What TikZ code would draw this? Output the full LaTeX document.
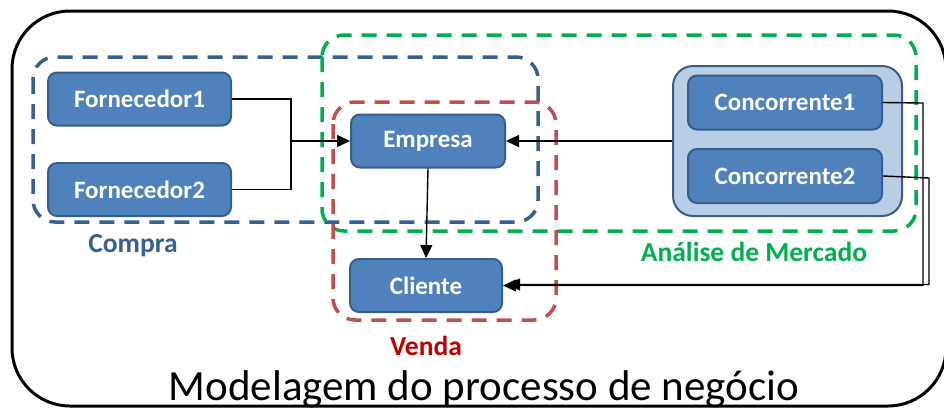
\documentclass[tikz,border=0pt]{standalone}
\usepackage{fontspec}
\setmainfont{Carlito}
\usetikzlibrary{arrows.meta}
\definecolor{boxfill}{RGB}{79,129,189}
\definecolor{boxline}{RGB}{56,93,138}
\definecolor{groupfill}{RGB}{185,205,229}
\definecolor{compra}{RGB}{54,96,146}
\definecolor{mercado}{RGB}{0,176,80}
\definecolor{vendaline}{RGB}{192,80,77}
\definecolor{vendatext}{RGB}{192,0,0}
\begin{document}
\begin{tikzpicture}[x=1pt,y=-1pt,
  proc/.style={draw=boxline, fill=boxfill, line width=2pt, rounded corners=9pt,
    text=white, font=\fontsize{25}{28}\selectfont\bfseries, inner sep=0pt},
  grouping/.style={line width=3.5pt, dash pattern=on 15pt off 10pt, rounded corners=22pt},
  arr/.style={-{Triangle[length=13pt,width=12pt]}},
  wire/.style={line width=1.4pt, black},
  tag/.style={font=\fontsize{27.5}{30}\selectfont\bfseries, inner sep=0pt, anchor=base},
]
\useasboundingbox (0,0) rectangle (944,410);
\clip (0,0) rectangle (944,410);

% outer frame
\draw[line width=3pt, rounded corners=58pt] (12,11) rectangle (946,406);

% dashed groupings
\draw[grouping, draw=compra] (33,57) rectangle (538,222);
\draw[grouping, draw=mercado] (322,35) rectangle (916,231);
\draw[grouping, draw=vendaline] (333,102) rectangle (556,320);

% competitor container
\node[draw=boxline, fill=groupfill, line width=2pt, rounded corners=20pt,
  minimum width=229pt, minimum height=150pt, inner sep=0pt] (conc) at (787.5,141) {};

% process boxes
\node[proc, minimum width=183pt, minimum height=53pt] (f1) at (139.5,99) {Fornecedor1};
\node[proc, minimum width=183pt, minimum height=53pt] (f2) at (139.5,189.5) {Fornecedor2};
\node[proc, minimum width=154pt, minimum height=53pt] (emp) at (428,141) {Empresa};
\node[proc, minimum width=152pt, minimum height=53pt] (cli) at (426,285.5) {Cliente};
\node[proc, minimum width=194pt, minimum height=54pt] (c1) at (785,102.5) {Concorrente1};
\node[proc, minimum width=194pt, minimum height=54pt] (c2) at (785,176) {Concorrente2};

% connectors
\coordinate (join) at (291,141);
\draw[wire] (f1.east) -| (join);
\draw[wire] (f2.east) -| (join);
\draw[wire, arr] (join) -- (emp.west);
\draw[wire, arr] (conc.west) -- (emp.east);
\draw[wire, arr] (emp.south) -- (cli.north);
\coordinate (r1) at (923,103);
\coordinate (r2) at (929,178);
\draw[wire, arr] (c1.east) -- (r1) |- (cli.east);
\draw[wire, arr] (c2.east) -- (r2) |- ([xshift=4pt,yshift=1pt]cli.east);

% labels
\node[tag, text=compra] (lcompra) at (133,252) {Compra};
\node[tag, text=mercado] (lmercado) at (754,261) {Análise de Mercado};
\node[tag, text=vendatext] (lvenda) at (426,355) {Venda};
\node[font=\fontsize{43}{48}\selectfont, inner sep=0pt, anchor=base] (title) at (484,400) {Modelagem do processo de negócio};
\end{tikzpicture}
\end{document}
